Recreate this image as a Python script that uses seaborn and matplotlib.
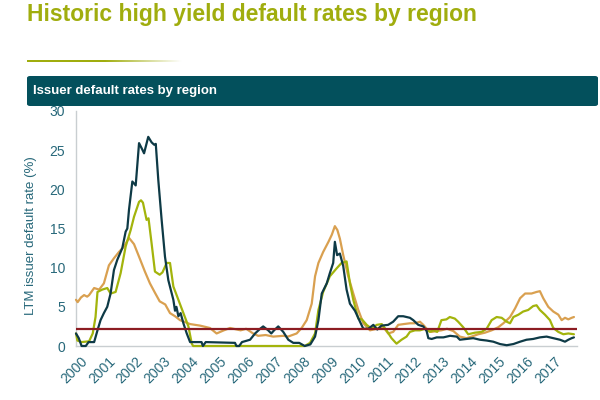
import numpy as np
import pandas as pd
import matplotlib
matplotlib.use("Agg")
import matplotlib.pyplot as plt
import matplotlib.transforms as mtransforms
from matplotlib.patches import FancyBboxPatch
from matplotlib.colors import LinearSegmentedColormap
import seaborn as sns

# Chart data (decimal year, LTM default rate %)
navy_t = [2000.0, 2000.1, 2000.2, 2000.35, 2000.45, 2000.65, 2000.77, 2000.88, 2001.0, 2001.12,
          2001.24, 2001.36, 2001.48, 2001.6, 2001.66, 2001.78, 2001.84, 2001.9, 2002.02, 2002.14,
          2002.26, 2002.36, 2002.44, 2002.59, 2002.71, 2002.8, 2002.86, 2002.95, 2003.07, 2003.19,
          2003.31, 2003.49, 2003.55, 2003.6, 2003.67, 2003.75, 2003.85, 2003.97, 2004.09, 2004.5,
          2004.55, 2004.65, 2005.7, 2005.75, 2005.85, 2005.95, 2006.24, 2006.42, 2006.6, 2006.71,
          2006.89, 2007.0, 2007.1, 2007.25, 2007.43, 2007.61, 2007.79, 2008.0, 2008.2, 2008.4,
          2008.57, 2008.69, 2008.81, 2008.99, 2009.1, 2009.22, 2009.28, 2009.36, 2009.46, 2009.58,
          2009.7, 2009.82, 2010.0, 2010.18, 2010.3, 2010.48, 2010.66, 2010.8, 2010.95, 2011.19,
          2011.37, 2011.55, 2011.73, 2011.85, 2011.97, 2012.09, 2012.27, 2012.45, 2012.57, 2012.63,
          2012.75, 2012.93, 2013.17, 2013.41, 2013.65, 2013.76, 2014.0, 2014.24, 2014.48, 2014.72,
          2014.96, 2015.2, 2015.44, 2015.68, 2015.92, 2016.15, 2016.39, 2016.63, 2016.87, 2017.11,
          2017.35, 2017.53, 2017.65, 2017.77, 2017.85]
navy_v = [1.6, 1.0, 0.0, 0.0, 0.5, 0.5, 2.0, 3.3, 4.2, 5.0,
          6.7, 9.7, 11.0, 12.0, 12.5, 14.6, 15.0, 17.4, 21.0, 20.5,
          25.9, 25.2, 24.6, 26.7, 26.0, 25.7, 25.8, 21.2, 16.1, 11.4,
          8.4, 5.9, 4.5, 5.0, 3.8, 4.2, 2.9, 1.6, 0.5, 0.5,
          0.0, 0.5, 0.4, 0.0, 0.0, 0.5, 0.8, 1.6, 2.2, 2.5,
          2.0, 1.6, 2.0, 2.5, 1.8, 0.8, 0.4, 0.4, 0.0, 0.2,
          1.2, 3.3, 6.7, 8.0, 9.3, 10.6, 13.3, 11.6, 11.8, 10.2,
          7.2, 5.4, 4.5, 3.1, 2.2, 2.2, 2.7, 2.1, 2.6, 2.7,
          3.1, 3.8, 3.8, 3.7, 3.6, 3.3, 2.7, 2.5, 1.9, 1.0,
          0.9, 1.1, 1.1, 1.3, 1.2, 0.8, 0.9, 1.0, 0.8, 0.7,
          0.55, 0.25, 0.1, 0.25, 0.55, 0.8, 0.9, 1.1, 1.2, 1.0,
          0.8, 0.55, 0.8, 1.0, 1.1]

tan_t = [2000.0, 2000.06, 2000.18, 2000.29, 2000.4, 2000.47, 2000.65, 2000.83, 2001.0, 2001.18,
         2001.36, 2001.54, 2001.72, 2001.9, 2002.08, 2002.26, 2002.47, 2002.65, 2002.83, 2003.0,
         2003.2, 2003.37, 2003.55, 2003.73, 2004.09, 2004.45, 2004.8, 2005.04, 2005.3, 2005.52,
         2005.9, 2006.1, 2006.35, 2006.53, 2006.8, 2007.07, 2007.43, 2007.6, 2007.91, 2008.09,
         2008.27, 2008.45, 2008.57, 2008.69, 2008.86, 2009.05, 2009.17, 2009.28, 2009.37, 2009.46,
         2009.58, 2009.76, 2009.94, 2010.12, 2010.3, 2010.54, 2010.78, 2011.0, 2011.19, 2011.37,
         2011.55, 2011.75, 2011.97, 2012.15, 2012.33, 2012.45, 2012.57, 2012.75, 2012.9, 2013.1,
         2013.3, 2013.53, 2013.76, 2014.0, 2014.18, 2014.42, 2014.66, 2014.9, 2015.14, 2015.32,
         2015.56, 2015.74, 2015.92, 2016.1, 2016.33, 2016.51, 2016.63, 2016.75, 2016.93, 2017.11,
         2017.29, 2017.41, 2017.53, 2017.65, 2017.77, 2017.85]
tan_v = [5.9, 5.6, 6.2, 6.5, 6.3, 6.5, 7.4, 7.2, 8.0, 10.3,
         11.2, 12.0, 12.7, 13.8, 13.0, 11.4, 9.5, 8.0, 6.8, 5.7,
         5.3, 4.2, 3.8, 3.3, 2.8, 2.6, 2.3, 1.6, 2.0, 2.3,
         2.0, 2.2, 1.6, 1.3, 1.4, 1.2, 1.3, 1.2, 1.6, 2.3,
         3.3, 5.4, 8.9, 10.6, 12.0, 13.3, 14.2, 15.3, 14.8, 13.7,
         11.6, 8.9, 6.7, 4.6, 2.9, 2.0, 2.2, 2.5, 1.6, 1.8,
         2.7, 2.8, 2.9, 2.9, 3.1, 2.7, 2.2, 1.8, 1.9, 2.0,
         2.2, 1.9, 1.2, 1.0, 1.2, 1.5, 1.7, 2.0, 2.4, 2.9,
         3.7, 4.8, 6.1, 6.7, 6.7, 6.9, 7.0, 6.1, 5.0, 4.4,
         4.0, 3.3, 3.6, 3.4, 3.6, 3.7]

olive_t = [2000.0, 2000.05, 2000.2, 2000.47, 2000.6, 2000.7, 2000.77, 2000.94, 2001.12, 2001.24,
           2001.42, 2001.6, 2001.78, 2001.96, 2002.08, 2002.26, 2002.33, 2002.4, 2002.53, 2002.6,
           2002.71, 2002.83, 2003.0, 2003.1, 2003.25, 2003.37, 2003.49, 2003.67, 2003.85, 2004.03,
           2004.15, 2004.2, 2008.2, 2008.39, 2008.57, 2008.69, 2008.86, 2009.1, 2009.34, 2009.52,
           2009.7, 2009.82, 2009.94, 2010.12, 2010.25, 2010.42, 2010.6, 2010.78, 2010.96, 2011.13,
           2011.31, 2011.49, 2011.67, 2011.85, 2011.97, 2012.15, 2012.33, 2012.51, 2012.69, 2012.8,
           2012.95, 2013.1, 2013.28, 2013.4, 2013.58, 2013.7, 2013.88, 2014.06, 2014.3, 2014.54,
           2014.72, 2014.9, 2015.08, 2015.26, 2015.44, 2015.56, 2015.68, 2015.86, 2016.03, 2016.21,
           2016.39, 2016.51, 2016.63, 2016.81, 2016.99, 2017.11, 2017.29, 2017.47, 2017.65, 2017.85]
olive_v = [1.6, 0.7, 0.5, 0.6, 1.6, 3.7, 6.9, 7.2, 7.4, 6.7,
           6.9, 9.3, 12.7, 14.8, 16.5, 18.4, 18.6, 18.3, 16.1, 16.3,
           13.1, 9.5, 9.1, 9.4, 10.6, 10.6, 7.6, 5.9, 4.2, 2.5,
           0.3, 0.0, 0.0, 0.4, 1.6, 4.6, 6.9, 8.9, 9.9, 10.6,
           10.8, 8.0, 5.9, 3.5, 3.4, 2.7, 2.2, 2.7, 2.8, 2.0,
           1.0, 0.3, 0.8, 1.2, 1.8, 2.0, 2.0, 2.2, 1.8, 2.0,
           1.8, 3.3, 3.4, 3.7, 3.5, 3.1, 2.4, 1.5, 1.7, 1.8,
           2.2, 3.3, 3.7, 3.6, 3.1, 2.9, 3.7, 4.0, 4.4, 4.6,
           5.1, 5.2, 4.6, 4.0, 3.3, 2.3, 1.8, 1.5, 1.6, 1.5]

avg_rate = 2.2
years = list(range(2000, 2018))
year_labels = [str(y) for y in years]

# colours
OLIVE = "#a0ad0e"
TEAL_BANNER = "#03505c"
TEXT_TEAL = "#27687a"
palette = {"tan": "#d9a050", "olive": "#a3b40c", "navy": "#0e3a46"}

frames = []
for name, t, v in [("tan", tan_t, tan_v), ("olive", olive_t, olive_v), ("navy", navy_t, navy_v)]:
    frames.append(pd.DataFrame({"year": t, "rate": v, "series": name}))
df = pd.concat(frames, ignore_index=True)

sns.set_theme(style="white")
plt.rcParams["font.family"] = ["Liberation Sans", "DejaVu Sans"]

fig = plt.figure(figsize=(6, 4), dpi=100)
fig.patch.set_facecolor("white")

# title
fig.text(27 / 600, 1 - 21 / 400, "Historic high yield default rates by region",
         fontsize=16.5, fontweight="bold", color=OLIVE, va="baseline", ha="left")

# fading rule under the title
grad_ax = fig.add_axes([27 / 600, 1 - 62.5 / 400, 155 / 600, 3 / 400])
cmap = LinearSegmentedColormap.from_list("fade", [OLIVE, OLIVE, "#ffffff"])
grad_ax.imshow(np.linspace(0, 1, 200).reshape(1, -1), aspect="auto", cmap=cmap)
grad_ax.set_axis_off()

# banner
fig.add_artist(FancyBboxPatch((27 / 600, 1 - 106 / 400), 571 / 600, 30 / 400,
                              boxstyle="round,pad=0,rounding_size=0.005",
                              transform=fig.transFigure, fc=TEAL_BANNER, ec="none"))
fig.text(33 / 600, 1 - 91 / 400, "Issuer default rates by region",
         fontsize=9.5, fontweight="bold", color="white", va="center", ha="left")

# main chart
ax = fig.add_axes([76 / 600, 54 / 400, 501 / 600, 235 / 400])
sns.lineplot(data=df, x="year", y="rate", hue="series", hue_order=["tan", "olive", "navy"],
             palette=palette, estimator=None, sort=False, linewidth=1.6, legend=False, ax=ax)
for line in ax.lines:
    line.set_clip_on(False)
    line.set_zorder(3)
ax.axhline(avg_rate, color="#8c1c22", linewidth=1.6, zorder=5)

ax.set_xlim(2000, 2017.96)
ax.set_ylim(0, 30)
ax.set_yticks(range(0, 31, 5))
ax.set_xticks(years)
ax.set_xticklabels(year_labels, rotation=45, ha="right", rotation_mode="anchor")
ax.tick_params(axis="both", length=0, labelsize=10, labelcolor=TEXT_TEAL)
ax.tick_params(axis="x", pad=6)
ax.tick_params(axis="y", pad=8)
offset = mtransforms.ScaledTranslation(3 / 72, 0, fig.dpi_scale_trans)
for lab in ax.get_xticklabels():
    lab.set_transform(lab.get_transform() + offset)

ax.set_xlabel("")
ax.set_ylabel("LTM issuer default rate (%)", fontsize=9.5, color=TEXT_TEAL)
ax.yaxis.set_label_coords(-0.078, 0.47)

for side in ["top", "right"]:
    ax.spines[side].set_visible(False)
for side in ["left", "bottom"]:
    ax.spines[side].set_color("#c9ced1")
    ax.spines[side].set_linewidth(1)
    ax.spines[side].set_zorder(1)

fig.savefig("out.png", dpi=100)
